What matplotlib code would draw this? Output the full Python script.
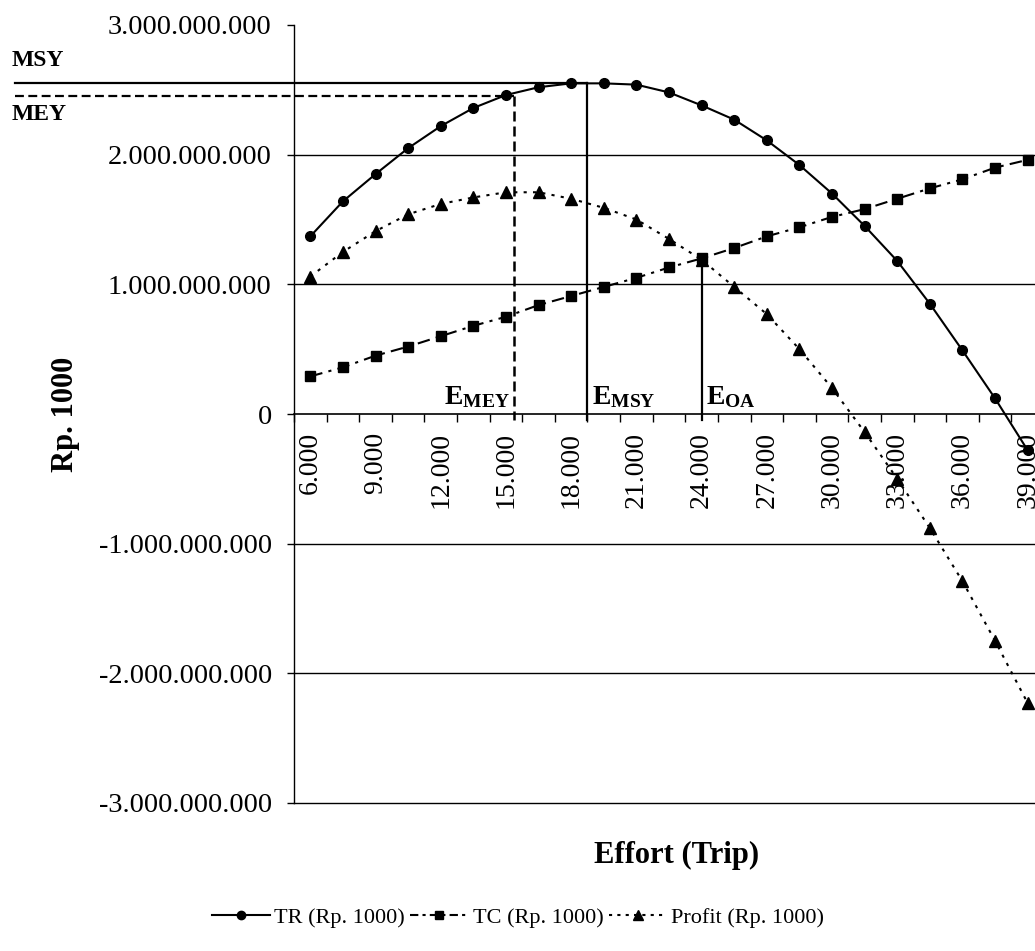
import matplotlib
matplotlib.use("Agg")
import matplotlib.pyplot as plt
from matplotlib.lines import Line2D
from matplotlib.ticker import FuncFormatter, FixedLocator

plt.rcParams['font.family'] = ['Liberation Serif', 'DejaVu Serif']
plt.rcParams['mathtext.fontset'] = 'custom'
plt.rcParams['mathtext.rm'] = 'Liberation Serif:bold'
plt.rcParams['mathtext.it'] = 'Liberation Serif:bold'
plt.rcParams['mathtext.bf'] = 'Liberation Serif:bold'

# ---- data ----
effort = [6000, 7500, 9000, 10500, 12000, 13500, 15000, 16500, 18000, 19500,
          21000, 22500, 24000, 25500, 27000, 28500, 30000, 31500, 33000, 34500,
          36000, 37500, 39000]
tr = [1.37e9, 1.64e9, 1.85e9, 2.05e9, 2.22e9, 2.36e9, 2.46e9, 2.52e9, 2.55e9,
      2.55e9, 2.54e9, 2.48e9, 2.38e9, 2.27e9, 2.11e9, 1.92e9, 1.70e9, 1.45e9,
      1.18e9, 0.85e9, 0.49e9, 0.12e9, -0.28e9]
tc = [0.29e9, 0.36e9, 0.45e9, 0.52e9, 0.60e9, 0.68e9, 0.75e9, 0.84e9, 0.91e9,
      0.98e9, 1.05e9, 1.13e9, 1.20e9, 1.28e9, 1.37e9, 1.44e9, 1.52e9, 1.58e9,
      1.66e9, 1.74e9, 1.81e9, 1.90e9, 1.96e9]
profit = [1.06e9, 1.25e9, 1.41e9, 1.54e9, 1.62e9, 1.67e9, 1.71e9, 1.71e9, 1.66e9,
          1.59e9, 1.50e9, 1.35e9, 1.19e9, 0.98e9, 0.77e9, 0.50e9, 0.20e9, -0.14e9,
          -0.50e9, -0.88e9, -1.29e9, -1.75e9, -2.23e9]
series_labels = ["TR (Rp. 1000)", "TC (Rp. 1000)", "Profit (Rp. 1000)"]

msy_level = 2.55e9
mey_level = 2.45e9
e_mey = 15350      # effort at MEY
e_msy = 18750      # effort at MSY
e_oa = 24000       # open access effort
e_oa_top = 1.23e9
ref_bottom = -0.05e9

y_ticks = [-3e9, -2e9, -1e9, 0, 1e9, 2e9, 3e9]
x_label_every = 2

# ---- figure ----
fig = plt.figure(figsize=(10.35, 9.51), dpi=100)
ax = fig.add_axes([294 / 1035, 1 - 803 / 951, 750 / 1035, 778 / 951])

n = len(effort)
xs = list(range(n))
step = effort[1] - effort[0]


def ex(e):
    return (e - effort[0]) / step


ax.set_xlim(-0.5, n - 0.5)
ax.set_ylim(y_ticks[0], y_ticks[-1])

# grid lines (horizontal)
for v in y_ticks[:-1]:
    if v != 0:
        ax.axhline(v, color='black', lw=1.0, zorder=1, clip_on=False)

# series
ax.plot(xs, tr, color='black', lw=1.5, marker='o', ms=7, zorder=4)
ax.plot(xs, tc, color='black', lw=1.5, marker='s', ms=6.5, dashes=(6, 3, 1.5, 3), zorder=4)
ax.plot(xs, profit, color='black', lw=1.5, marker='^', ms=8, dashes=(1.5, 3), zorder=4)

# reference lines
x_left = ax.transData.inverted().transform(fig.transFigure.transform((15 / 1035, 0)))[0]
ax.plot([x_left, ex(e_msy)], [msy_level, msy_level], color='black', lw=1.6, clip_on=False, zorder=3)
ax.plot([x_left, ex(e_mey)], [mey_level, mey_level], color='black', lw=1.6,
        dashes=(4, 2), clip_on=False, zorder=3)
ax.plot([ex(e_mey), ex(e_mey)], [mey_level, ref_bottom], color='black', lw=1.8,
        dashes=(4, 2), zorder=3)
ax.plot([ex(e_msy), ex(e_msy)], [msy_level, ref_bottom], color='black', lw=1.6, zorder=3)
ax.plot([ex(e_oa), ex(e_oa)], [e_oa_top, ref_bottom], color='black', lw=1.6, zorder=3)

# labels on reference lines
ax.annotate(r'$\mathrm{E}_{\mathrm{MEY}}$', xy=(ex(e_mey), 0), xytext=(-3, 3),
            textcoords='offset points', ha='right', va='bottom', fontsize=20)
ax.annotate(r'$\mathrm{E}_{\mathrm{MSY}}$', xy=(ex(e_msy), 0), xytext=(3, 3),
            textcoords='offset points', ha='left', va='bottom', fontsize=20)
ax.annotate(r'$\mathrm{E}_{\mathrm{OA}}$', xy=(ex(e_oa), 0), xytext=(3, 3),
            textcoords='offset points', ha='left', va='bottom', fontsize=20)

fig.text(12 / 1035, 1 - 60 / 951, "MSY", fontsize=17, fontweight='bold', va='center', ha='left')
fig.text(12 / 1035, 1 - 115 / 951, "MEY", fontsize=17, fontweight='bold', va='center', ha='left')

# spines
for s in ['top', 'right']:
    ax.spines[s].set_visible(False)
ax.spines['bottom'].set_position(('data', 0))
ax.spines['left'].set_linewidth(1.0)
ax.spines['bottom'].set_linewidth(1.2)

# y axis
ax.yaxis.set_major_locator(FixedLocator(y_ticks))
ax.yaxis.set_major_formatter(FuncFormatter(lambda v, p: f"{int(round(v)):,}".replace(',', '.')))
ax.tick_params(axis='y', direction='out', length=5, width=1, pad=11, labelsize=20.5)

# x axis: labels at every 2nd category, tick marks at category boundaries
ax.set_xticks(xs[::x_label_every])
ax.set_xticklabels([f"{e:,}".replace(',', '.') for e in effort[::x_label_every]], rotation=90)
ax.set_xticks([i - 0.5 for i in range(n + 1)], minor=True)
ax.tick_params(axis='x', which='major', length=0, pad=13, labelsize=20)
ax.tick_params(axis='x', which='minor', direction='out', length=6, width=1)
for lbl in ax.get_xticklabels():
    lbl.set_va('top')

ax.set_ylabel("Rp. 1000", fontsize=22, fontweight='bold', labelpad=12)
ax.yaxis.set_label_coords(-(294 - 80) / 750, 0.5)
fig.text(677 / 1035, 1 - 855 / 951, "Effort (Trip)", fontsize=22, fontweight='bold',
         ha='center', va='center')

# legend
handles = [
    Line2D([], [], color='black', lw=1.5, marker='o', ms=6),
    Line2D([], [], color='black', lw=1.5, marker='s', ms=5.5, dashes=(4, 2, 1.5, 2)),
    Line2D([], [], color='black', lw=1.5, marker='^', ms=6.5, dashes=(1.5, 2.5)),
]
fig.legend(handles, series_labels, loc='center', bbox_to_anchor=(518 / 1035, 1 - 918 / 951),
           ncol=3, frameon=False, fontsize=16, handlelength=2.6, handletextpad=0.2,
           columnspacing=0.25)

fig.savefig("out.png", dpi=100)
